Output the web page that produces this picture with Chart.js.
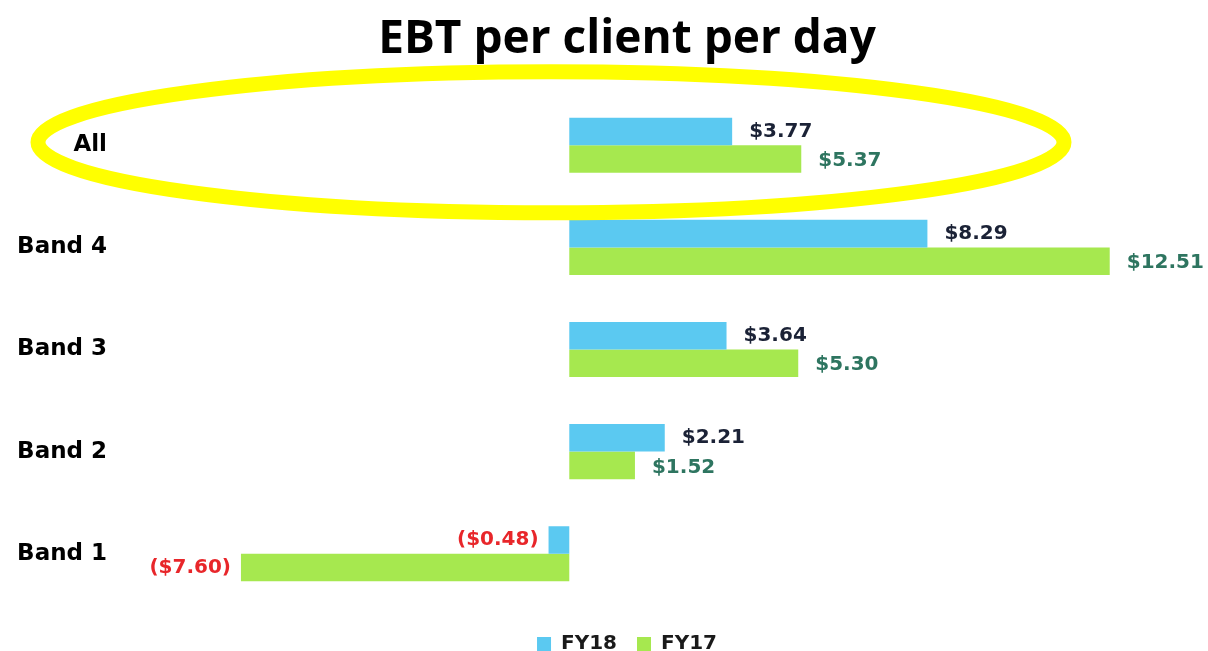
<!DOCTYPE html>
<html>
<head>
<meta charset="utf-8">
<script src="https://cdn.jsdelivr.net/npm/chart.js@4/dist/chart.umd.min.js"></script>
<style>
  body { margin: 0; background: #fff; overflow: hidden; }
  canvas { display: block; }
</style>
</head>
<body>
<canvas id="myChart" width="1208" height="664"></canvas>
<script>
// chart data
const categories = ['All', 'Band 4', 'Band 3', 'Band 2', 'Band 1'];
const fy18Values = [3.77, 8.29, 3.64, 2.21, -0.48];
const fy17Values = [5.37, 12.51, 5.30, 1.52, -7.60];
const seriesNames = ['FY18', 'FY17'];

const blue = '#5BC9F1';
const green = '#A6E84F';
const labelColors = ['#1B2236', '#2E7560']; // FY18, FY17
const negColor = '#E8262A';

function money(v) {
    const s = '$' + Math.abs(v).toFixed(2);
    return v < 0 ? '(' + s + ')' : s;
}

// draw value labels next to bar ends
const valueLabels = {
    id: 'valueLabels',
    afterDatasetsDraw(chart) {
        const ctx = chart.ctx;
        ctx.save();
        ctx.font = 'bold 20px "DejaVu Sans"';
        ctx.textBaseline = 'middle';
        chart.data.datasets.forEach((ds, i) => {
            const meta = chart.getDatasetMeta(i);
            meta.data.forEach((bar, j) => {
                const v = ds.data[j];
                if (v < 0) {
                    ctx.fillStyle = negColor;
                    ctx.textAlign = 'right';
                    ctx.fillText(money(v), bar.x - 10, bar.y);
                } else {
                    ctx.fillStyle = labelColors[i];
                    ctx.textAlign = 'left';
                    ctx.fillText(money(v), bar.x + 17, bar.y + (i === 1 ? 2 : 0));
                }
            });
        });
        ctx.restore();
    }
};

// title and legend sit a bit right of the page centre in the original
const shiftBlocks = {
    id: 'shiftBlocks',
    afterLayout(chart) {
        if (chart.titleBlock) chart.titleBlock.left += 46;
        if (chart.legend) chart.legend.left += 46;
    }
};

// yellow highlight ring around the "All" row
const highlight = {
    id: 'highlight',
    afterDraw(chart) {
        const ctx = chart.ctx;
        const cy = chart.scales.y.getPixelForValue(0) - 3;
        ctx.save();
        ctx.strokeStyle = '#FFFF00';
        ctx.lineWidth = 15;
        ctx.beginPath();
        ctx.ellipse(551, cy, 513, 70.5, 0, 0, Math.PI * 2);
        ctx.stroke();
        ctx.restore();
    }
};

const ctx = document.getElementById('myChart').getContext('2d');
const myChart = new Chart(ctx, {
    type: 'bar',
    data: {
        labels: categories,
        datasets: [
            {
                label: seriesNames[0],
                data: fy18Values,
                backgroundColor: blue,
                categoryPercentage: 0.54,
                barPercentage: 1
            },
            {
                label: seriesNames[1],
                data: fy17Values,
                backgroundColor: green,
                categoryPercentage: 0.54,
                barPercentage: 1
            }
        ]
    },
    options: {
        indexAxis: 'y',
        responsive: false,
        animation: false,
        layout: { padding: 0 },
        scales: {
            x: {
                display: false,
                min: -10.4,
                max: 14.785
            },
            y: {
                grid: { display: false, drawTicks: false },
                border: { display: false },
                ticks: {
                    color: '#000',
                    padding: 13,
                    font: { family: '"DejaVu Sans"', size: 23, weight: 'bold' }
                },
                afterFit(scale) { scale.width = 120; }
            }
        },
        plugins: {
            title: {
                display: true,
                text: 'EBT per client per day',
                color: '#000',
                font: { family: '"Open Sans"', size: 46, weight: 'bold' },
                padding: { top: 12, bottom: 27 }
            },
            legend: {
                position: 'bottom',
                title: { display: true, text: '', font: { size: 1 }, padding: { top: 8, bottom: 0 } },
                labels: {
                    color: '#1a1a1a',
                    boxWidth: 14,
                    boxHeight: 14,
                    padding: 20,
                    font: { family: '"DejaVu Sans"', size: 20, weight: 'bold' }
                }
            },
            tooltip: { enabled: false }
        }
    },
    plugins: [valueLabels, shiftBlocks, highlight]
});
</script>
</body>
</html>
